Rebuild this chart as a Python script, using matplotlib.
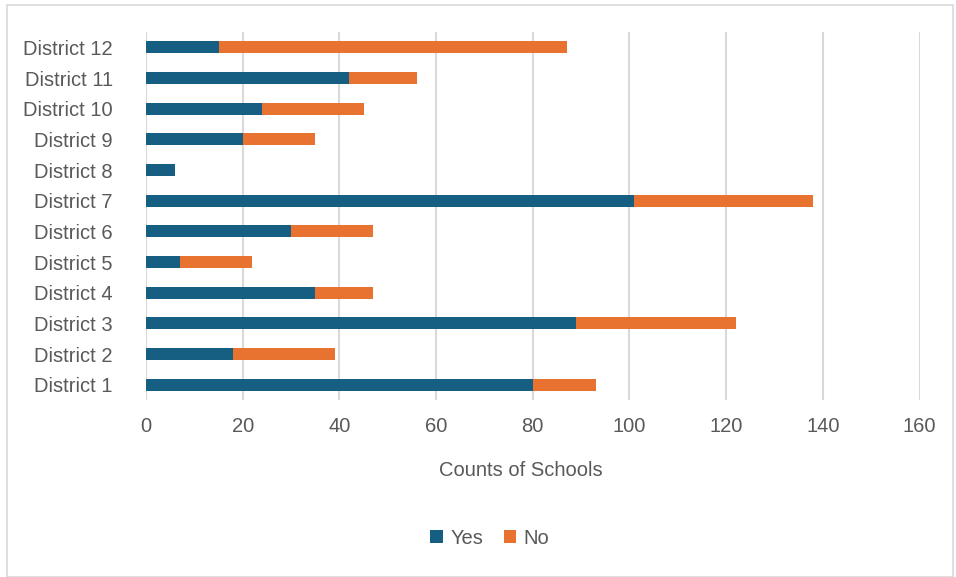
import matplotlib.pyplot as plt
from matplotlib.patches import Rectangle

districts = ['District 1', 'District 2', 'District 3', 'District 4', 'District 5', 'District 6',
             'District 7', 'District 8', 'District 9', 'District 10', 'District 11', 'District 12']
yes = [80, 18, 89, 35, 7, 30, 101, 6, 20, 24, 42, 15]
no = [13, 21, 33, 12, 15, 17, 37, 0, 15, 21, 14, 72]
xticks = [0, 20, 40, 60, 80, 100, 120, 140, 160]

blue = '#175E83'
orange = '#E87331'
grey = '#595959'

plt.rcParams['font.family'] = ['Liberation Sans Narrow', 'Liberation Sans', 'DejaVu Sans']

fig = plt.figure(figsize=(9.56, 5.77), dpi=100)
ax = fig.add_axes([146 / 956, 1 - 400 / 577, (919.5 - 146) / 956, (400 - 32) / 577])

ypos = range(len(districts))
ax.barh(ypos, yes, height=0.4, color=blue, label='Yes', zorder=3)
ax.barh(ypos, no, left=yes, height=0.4, color=orange, label='No', zorder=3)

ax.set_xlim(0, 160)
ax.set_ylim(-0.5, 11.5)
ax.set_xticks(xticks)
ax.set_yticks(list(ypos))
ax.set_yticklabels(districts)
ax.grid(axis='x', color='#d9d9d9', linewidth=1.5, zorder=0)
for s in ax.spines.values():
    s.set_visible(False)
ax.tick_params(axis='y', length=0, pad=24, labelsize=14.5, labelcolor=grey)
ax.tick_params(axis='x', length=0, pad=12, labelsize=14.5, labelcolor=grey)

fig.text(521 / 956, 1 - 470 / 577, 'Counts of Schools', ha='center', va='center',
         fontsize=14.5, color=grey)

fig.legend(loc='center', bbox_to_anchor=(490 / 956, 1 - 538 / 577), ncol=2, frameon=False,
           fontsize=14.5, labelcolor=grey, handlelength=0.6, handleheight=0.6,
           handletextpad=0.4, columnspacing=1.0)

fig.patches.append(Rectangle((7 / 956, 0), 946 / 956, 1 - 5 / 577, transform=fig.transFigure,
                             fill=False, edgecolor='#d9d9d9', linewidth=1.2))

fig.savefig('out.png', dpi=100)
